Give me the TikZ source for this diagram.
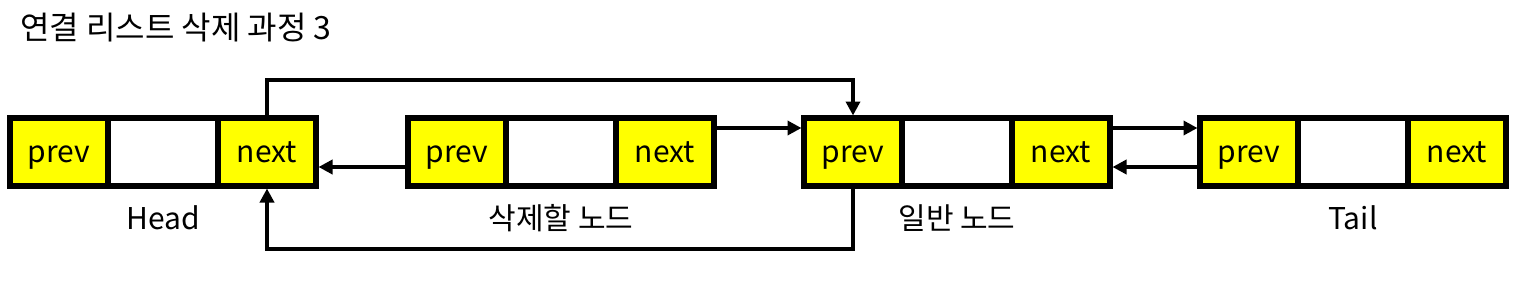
\documentclass[tikz,border=0pt]{standalone}
\usepackage{fontspec}
\setmainfont{Noto Sans CJK KR}
\usetikzlibrary{positioning}
\usetikzlibrary{arrows.meta}

\definecolor{cellyellow}{RGB}{255,255,0}

\tikzset{
	cell/.style={draw, line width=5.5pt, outer sep=0pt, inner sep=0pt,
		minimum height=68pt, text height=20pt, text depth=0pt,
		font=\fontsize{30}{36}\selectfont},
	ptr/.style={cell, fill=cellyellow, minimum width=98pt},
	data/.style={cell, fill=white, minimum width=110pt},
	tag/.style={font=\fontsize{30}{36}\selectfont, inner sep=0pt},
	link/.style={line width=4pt, -{Triangle[length=14pt,width=14pt]}, shorten >=2.5pt}
}

\begin{document}
\begin{tikzpicture}[x=1pt, y=-1pt]

		\useasboundingbox (0,0) rectangle (1527,287);

		% Title
		\node[tag, anchor=west, font=\fontsize{32}{38}\selectfont] (title) at (20,28) {연결 리스트 삭제 과정 3};

		% Rows for the connectors
		\coordinate (toprow) at (0,80);
		\coordinate (hirow)  at (0,128);
		\coordinate (lorow)  at (0,167);
		\coordinate (tagrow) at (0,218);
		\coordinate (botrow) at (0,249);

		% Head
		\node[ptr, anchor=west] (h-prev) at (10,152) {prev};
		\node[data, right=0pt of h-prev] (h-data) {};
		\node[ptr, right=0pt of h-data] (h-next) {next};

		% Node to delete
		\node[ptr, right=92pt of h-next] (d-prev) {prev};
		\node[data, right=0pt of d-prev] (d-data) {};
		\node[ptr, right=0pt of d-data] (d-next) {next};

		% Normal node
		\node[ptr, right=90pt of d-next] (n-prev) {prev};
		\node[data, right=0pt of n-prev] (n-data) {};
		\node[ptr, right=0pt of n-data] (n-next) {next};

		% Tail
		\node[ptr, right=90pt of n-next] (t-prev) {prev};
		\node[data, right=0pt of t-prev] (t-data) {};
		\node[ptr, right=0pt of t-data] (t-next) {next};

		% Names under the nodes
		\node[tag] (h-tag) at (h-data |- tagrow) {Head};
		\node[tag] (d-tag) at (d-data |- tagrow) {삭제할 노드};
		\node[tag] (n-tag) at (n-data |- tagrow) {일반 노드};
		\node[tag] (t-tag) at (t-data |- tagrow) {Tail};

		% Links
		\draw[link] (h-next.north) -- (h-next.north |- toprow) -| (n-prev.north);
		\draw[link] (n-prev.south) -- (n-prev.south |- botrow) -| (h-next.south);
		\draw[link] (d-prev.west |- lorow) -- (h-next.east |- lorow);
		\draw[link] (d-next.east |- hirow) -- (n-prev.west |- hirow);
		\draw[link] (n-next.east |- hirow) -- (t-prev.west |- hirow);
		\draw[link] (t-prev.west |- lorow) -- (n-next.east |- lorow);

	\end{tikzpicture}
\end{document}
